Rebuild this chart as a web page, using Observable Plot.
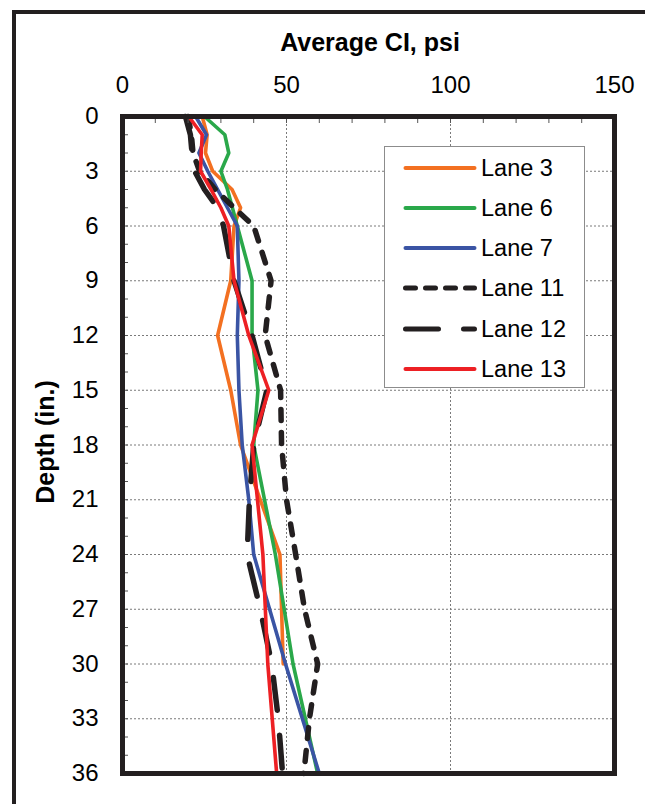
<!DOCTYPE html>
<html>
<head>
<meta charset="utf-8">
<script src="https://cdn.jsdelivr.net/npm/d3@7"></script>
<script src="https://cdn.jsdelivr.net/npm/@observablehq/plot@0.6"></script>
<style>
  html, body { margin: 0; padding: 0; background: #fff; }
  body { width: 645px; height: 804px; overflow: hidden; position: relative;
         font-family: "Liberation Sans", Arial, sans-serif; color: #000; }
  #outer { position: absolute; left: 12px; top: 10px; width: 700px; height: 900px;
           border: 4px solid #231f20; box-sizing: border-box; }
  #chart { position: absolute; left: 0; top: 0; }
  #title { position: absolute; left: 122px; width: 496px; top: 30px; text-align: center;
           font-weight: bold; font-size: 25px; line-height: 25px; }
  #ylabel { position: absolute; left: -55px; top: 427px; width: 200px; height: 30px;
            line-height: 30px; text-align: center; font-weight: bold; font-size: 25px;
            transform: rotate(-90deg); }
  #legend { position: absolute; left: 384px; top: 146px; width: 201px; height: 242px;
            box-sizing: border-box; border: 1px solid #8c8c8c; background: #fff; }
  .row { position: absolute; left: 0; height: 30px; width: 200px; }
  .row svg { position: absolute; left: 18px; top: 10px; }
  .row span { position: absolute; left: 96px; top: 0; font-size: 23.5px; line-height: 30px; }
</style>
</head>
<body>
<div id="outer"></div>
<div id="chart"></div>
<div id="title">Average CI, psi</div>
<div id="ylabel">Depth (in.)</div>
<div id="legend"></div>
<script>
// ---- data ----
const laneNames = ["Lane 3", "Lane 6", "Lane 7", "Lane 11", "Lane 12", "Lane 13"];

const lane3Depth  = [0, 1, 2, 3, 4, 5, 6, 9, 12, 15, 18, 24, 30];
const lane3CI     = [24.3, 25.8, 25.3, 27.5, 33.4, 36, 34, 33, 29, 33, 36, 48, 49];

const lane6Depth  = [0, 1, 2, 3, 4, 5, 6, 9, 12, 15, 18, 24, 30, 36];
const lane6CI     = [25, 31.2, 32.4, 30, 32, 33.5, 35, 39.5, 39.5, 41.3, 40, 46.6, 52, 59.5];

const lane7Depth  = [0, 1, 2, 3, 4, 5, 6, 9, 12, 15, 18, 21, 24, 30, 36];
const lane7CI     = [22.3, 25.6, 23.3, 26, 29, 32, 35, 35.5, 35, 35.5, 36.5, 38.5, 40, 49.7, 60];

const lane11Depth = [0, 1, 2, 3, 4, 5, 6, 9, 12, 15, 18, 21, 24, 27, 30, 33, 36];
const lane11CI    = [20, 21, 21.5, 23.5, 28.3, 34, 40, 45.3, 43.5, 48.2, 48.5, 50, 52.8, 55.5, 59.5, 57, 55.3];

const lane12Depth = [0, 1, 2, 3, 4, 5, 6, 9, 12, 15, 18, 21, 24, 27, 30, 33, 36];
const lane12CI    = [19.2, 20.7, 21.2, 22, 25, 29, 30.8, 34, 39.5, 44, 40, 38.7, 38, 42, 45.5, 47.5, 48.8];

const lane13Depth = [0, 1, 2, 3, 4, 5, 6, 9, 12, 15, 18, 24, 30, 36];
const lane13CI    = [20.2, 24.3, 24, 23.8, 27, 30, 32.4, 34, 38.5, 44.6, 39.5, 42.8, 44.3, 47];

const xTickLabels = [0, 50, 100, 150];
const yTickLabels = [0, 3, 6, 9, 12, 15, 18, 21, 24, 27, 30, 33, 36];
const xMinorTicks = d3.range(0, 151, 10);
const yMinorTicks = d3.range(0, 37, 1);

// ---- styles ----
const laneStyles = [
  {stroke: "#f37021", strokeWidth: 3.6},
  {stroke: "#2aa84a", strokeWidth: 3.6},
  {stroke: "#3a54a4", strokeWidth: 3.6},
  {stroke: "#231f20", strokeWidth: 5.5, strokeDasharray: "11,12", strokeLinecap: "round"},
  {stroke: "#231f20", strokeWidth: 5.5, strokeDasharray: "33,25", strokeLinecap: "round"},
  {stroke: "#ed2024", strokeWidth: 3.6}
];
const legendDash = ["", "", "", "10,10", "33,25", ""];

const depths = [lane3Depth, lane6Depth, lane7Depth, lane11Depth, lane12Depth, lane13Depth];
const values = [lane3CI, lane6CI, lane7CI, lane11CI, lane12CI, lane13CI];

const series = laneNames.map((name, i) =>
  depths[i].map((d, j) => ({lane: name, depth: d, ci: values[i][j]}))
);

const chart = Plot.plot({
  width: 645,
  height: 804,
  marginLeft: 122,
  marginTop: 116,
  marginRight: 31,
  marginBottom: 31,
  style: {fontFamily: "Liberation Sans, Arial, sans-serif", fontSize: "24px", color: "#000", background: "transparent", overflow: "visible"},
  x: {domain: [0, 150]},
  y: {domain: [0, 36], reverse: true},
  marks: [
    Plot.gridX({ticks: [50, 100], stroke: "#7a7a7a", strokeOpacity: 1, strokeWidth: 1, strokeDasharray: "2,2"}),
    Plot.gridY({ticks: d3.range(3, 36, 3), stroke: "#7a7a7a", strokeOpacity: 1, strokeWidth: 1, strokeDasharray: "2,2"}),
    ...series.map((s, i) => Plot.line(s, {x: "ci", y: "depth", strokeLinejoin: "round", ...laneStyles[i]})),
    Plot.axisX({anchor: "top", ticks: xMinorTicks, tickSize: -6, text: null, label: null, stroke: "#555", strokeWidth: 1}),
    Plot.axisY({anchor: "left", ticks: yMinorTicks, tickSize: -6, text: null, label: null, stroke: "#555", strokeWidth: 1}),
    Plot.axisX({anchor: "top", ticks: xTickLabels, tickSize: 0, tickPadding: 24, fontSize: 24, label: null, tickFormat: d => String(d)}),
    Plot.axisY({anchor: "left", ticks: yTickLabels, tickSize: 0, tickPadding: 24, fontSize: 24, label: null, tickFormat: d => String(d)}),
    Plot.frame({stroke: "#231f20", strokeWidth: 5})
  ]
});
document.getElementById("chart").appendChild(chart);

// ---- legend ----
const legend = document.getElementById("legend");
laneNames.forEach((name, i) => {
  const row = document.createElement("div");
  row.className = "row";
  row.style.top = (5.5 + i * 40.3) + "px";
  const st = laneStyles[i];
  const dash = legendDash[i] ? `stroke-dasharray="${legendDash[i]}"` : "";
  const w = st.strokeWidth > 4 ? 5 : 4;
  row.innerHTML = `<svg width="74" height="10"><line x1="2.5" x2="71.5" y1="5" y2="5" stroke="${st.stroke}" stroke-width="${w}" stroke-linecap="round" ${dash}/></svg><span>${name}</span>`;
  legend.appendChild(row);
});
</script>
</body>
</html>
